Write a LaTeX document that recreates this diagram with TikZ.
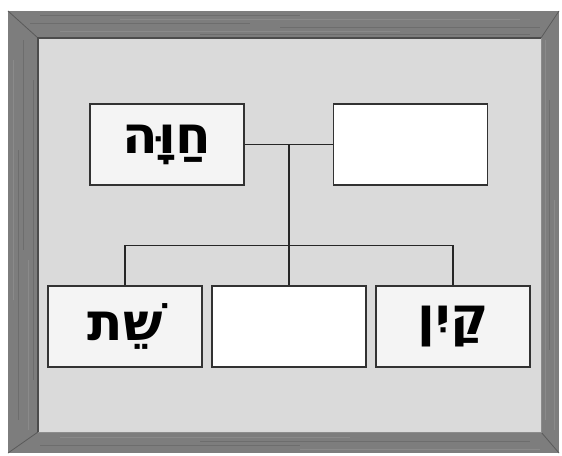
\documentclass[tikz,border=0pt]{standalone}
\usepackage{fontspec}
\TeXXeTstate=1
\newfontfamily\hebfont[Script=Hebrew]{DejaVu Sans}
\definecolor{wood}{RGB}{125,125,125}
\definecolor{wooddark}{RGB}{90,90,90}
\definecolor{woodlight}{RGB}{155,155,155}
\definecolor{canvasgray}{RGB}{218,218,218}
\definecolor{boxline}{RGB}{50,50,50}
\definecolor{boxfill}{RGB}{244,244,244}
\begin{document}
\begin{tikzpicture}[x=1pt,y=-1pt,
  namebox/.style={draw=boxline,line width=1.1pt,fill=boxfill,minimum width=154pt,minimum height=81pt,inner sep=0pt},
  emptybox/.style={namebox,fill=white},
  link/.style={draw=black!85,line width=1.2pt},
  hebname/.style={font=\hebfont\bfseries\fontsize{52}{52}\selectfont}]
\useasboundingbox (0,0) rectangle (562,455);
\fill[white] (0,0) rectangle (562,455);
% frame
\fill[wood] (8,11) rectangle (559,453);
% wood streaks
\foreach \yy/\xa/\xb/\c in {15/40/300/wooddark,19/120/520/woodlight,23/30/250/wooddark,27/280/540/wooddark,31/60/400/woodlight,34/200/530/wooddark}{
  \draw[\c,line width=0.9pt,opacity=0.45] (\xa,\yy) -- (\xb,\yy);
}
\foreach \yy/\xa/\xb/\c in {437/60/350/woodlight,441/200/530/wooddark,445/40/300/wooddark,449/300/540/woodlight}{
  \draw[\c,line width=0.9pt,opacity=0.45] (\xa,\yy) -- (\xb,\yy);
}
\foreach \xx/\ya/\yb/\c in {13/60/300/woodlight,18/150/420/wooddark,23/40/250/wooddark,28/260/430/woodlight,33/80/380/wooddark}{
  \draw[\c,line width=0.9pt,opacity=0.45] (\xx,\ya) -- (\xx,\yb);
}
\foreach \xx/\ya/\yb/\c in {545/40/420/woodlight,549/100/350/wooddark,554/200/430/woodlight}{
  \draw[\c,line width=0.9pt,opacity=0.45] (\xx,\ya) -- (\xx,\yb);
}
% mitre joints
\draw[wooddark,line width=0.8pt] (8,11) -- (38,38);
\draw[wooddark,line width=0.8pt] (559,11) -- (541,38);
\draw[wooddark,line width=0.8pt] (8,453) -- (38,432);
\draw[wooddark,line width=0.8pt] (559,453) -- (541,432);
% canvas
\fill[canvasgray] (38,38) rectangle (541,432);
\draw[black!70,line width=1.5pt] (38,432) -- (38,38) -- (541,38);
\draw[black!45,line width=0.8pt] (541,38) -- (541,432) -- (38,432);
% boxes
\node[namebox,hebname] (eve) at (167,144.5) {\beginR חַוָּה\endR};
\node[emptybox] (adam) at (410.5,144.5) {};
\node[namebox,hebname] (seth) at (125,326.5) {\beginR שֵׁת\endR};
\node[emptybox] (abel) at (289,326.5) {};
\node[namebox,hebname] (cain) at (453,326.5) {\beginR קַיִן\endR};
% connectors
\coordinate (j1) at (289,144.5);
\coordinate (j2) at (289,245.5);
\draw[link] (eve.east) -- (adam.west);
\draw[link] (j1) -- (abel.north);
\draw[link] (seth.north) |- (j2) -| (cain.north);
\end{tikzpicture}
\end{document}
